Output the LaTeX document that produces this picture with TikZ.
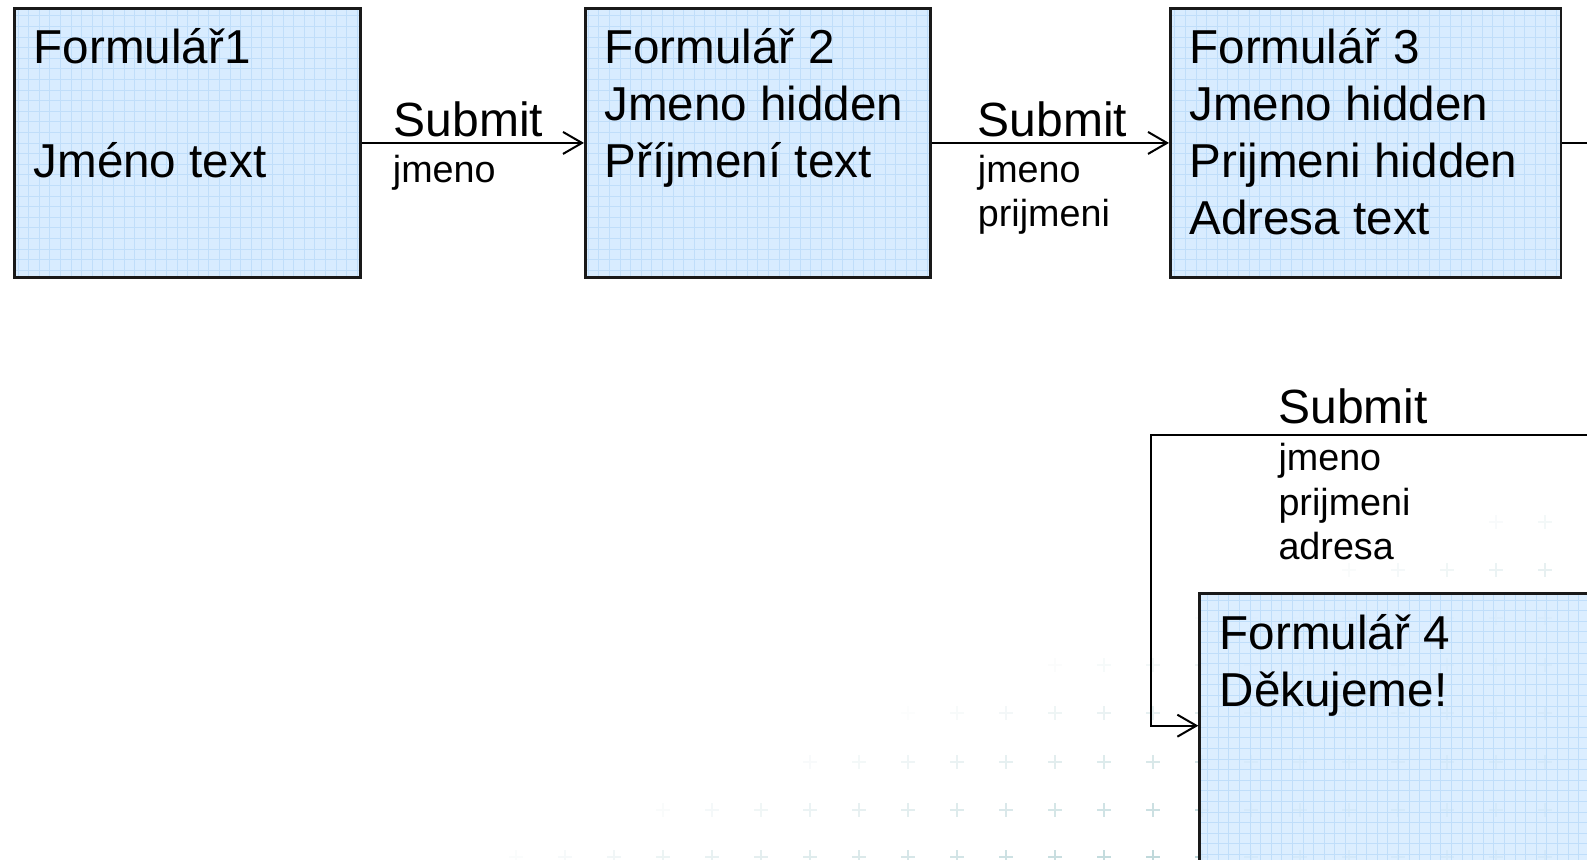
\documentclass[tikz,border=0pt]{standalone}
\usepackage{fontspec}
\setmainfont{Liberation Sans}
\usetikzlibrary{arrows.meta,calc}
\definecolor{boxfill}{RGB}{216,236,255}
\definecolor{gridc}{RGB}{192,222,250}
\definecolor{plusc}{RGB}{130,180,185}
\newcommand{\mylines}[1]{\begin{tabular}[t]{@{}l@{}}#1\end{tabular}}
\tikzset{
  formbox/.style={draw=black!90, line width=2.5pt, fill=boxfill, anchor=north west, inner sep=0pt,
    path picture={\draw[gridc, line width=0.7pt] (path picture bounding box.south west) grid[step=10.6pt] (path picture bounding box.north east);}},
  boxtext/.style={anchor=base west, inner sep=0pt, font=\fontsize{47.6}{57.2}\selectfont},
  sublabel/.style={anchor=base west, inner sep=0pt, font=\fontsize{48}{57.7}\selectfont},
  fieldlist/.style={anchor=base west, inner sep=0pt, font=\fontsize{37.7}{44.6}\selectfont},
  conn/.style={draw=black, line width=2pt},
  arr/.style={conn, -{Straight Barb[length=19pt,width=22pt,line width=2pt]}},
  plusmark/.style={draw=plusc, line width=1.6pt},
}
\begin{document}
\begin{tikzpicture}[x=1.0121pt,y=-1.0121pt]
\useasboundingbox (0,0) rectangle (1568,849.7);
\clip (0,0) rectangle (1568,849.7);
\fill[white] (0,0) rectangle (1568,849.7);
% faint background pattern (true pixel coordinates)
\begin{scope}[x=1pt,y=-1pt]
\foreach \py in {522,570,618,665,713,762,810,857}{
  \foreach \px in {418,467,...,1594}{
    \pgfmathsetmacro\op{max(0,min(0.55,0.5*(0.35*\px+\py-1020)/240))}
    \ifdim\op pt>0.02pt
      \draw[plusmark, opacity=\op] (\px-7,\py) -- (\px+7,\py) (\px,\py-7) -- (\px,\py+7);
    \fi
  }
}
\end{scope}
% boxes
\node[formbox, minimum width=346.1pt, minimum height=269.2pt] (f1) at (13,7) {};
\node[formbox, minimum width=345.1pt, minimum height=269.2pt] (f2) at (577,7) {};
\node[formbox, minimum width=390.7pt, minimum height=269.2pt] (f3) at (1155,7) {};
\node[formbox, fill opacity=0.88, minimum width=440pt, minimum height=310pt] (f4) at (1184,585) {};
% box texts
\node[boxtext] (t1) at (33,62.5) {\mylines{Formulář1\\ \\Jméno text}};
\node[boxtext] (t2) at (597,62.5) {\mylines{Formulář 2\\Jmeno hidden\\Příjmení text}};
\node[boxtext] (t3) at (1175,62.5) {\mylines{Formulář 3\\Jmeno hidden\\Prijmeni hidden\\Adresa text}};
\node[boxtext] (t4) at (1205,642) {\mylines{Formulář 4\\Děkujeme!}};
% connectors
\coordinate (e3) at (1580,140);
\coordinate (e4) at (1580,430);
\coordinate (k4) at (1137,430);
\draw[arr] (f1.east) -- (f2.west);
\draw[arr] (f2.east) -- (f3.west);
\draw[conn] (f3.east) -- (f3.east -| e3);
\draw[arr] (e4) -- (k4) |- ($(f4.north west)+(0,132)$);
% labels
\node[sublabel] (s1) at (389,135) {Submit};
\node[fieldlist] (l1) at (388,180) {jmeno};
\node[sublabel] (s2) at (966,135) {Submit};
\node[fieldlist] (l2) at (966,180) {\mylines{jmeno\\prijmeni}};
\node[sublabel] (s3) at (1263,418) {Submit};
\node[fieldlist] (l3) at (1263,465) {\mylines{jmeno\\prijmeni\\adresa}};
\end{tikzpicture}
\end{document}
